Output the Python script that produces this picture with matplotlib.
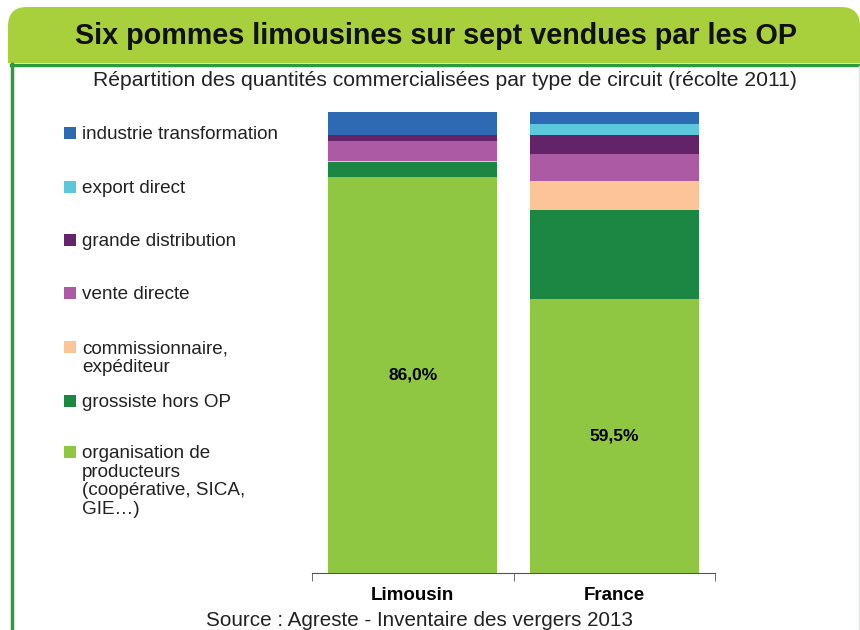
import matplotlib.pyplot as plt
from matplotlib.patches import FancyBboxPatch, Rectangle
from matplotlib.lines import Line2D

plt.rcParams['font.family'] = ['Liberation Sans', 'DejaVu Sans']

# Data (stack order bottom -> top)
regions = ['Limousin', 'France']
circuits = ['organisation de\nproducteurs\n(coopérative, SICA,\nGIE…)',
            'grossiste hors OP',
            'commissionnaire,\nexpéditeur',
            'vente directe',
            'grande distribution',
            'export direct',
            'industrie transformation']
limousin = [86.0, 3.2, 0.2, 4.3, 1.3, 0.0, 5.0]
france = [59.5, 19.2, 6.3, 5.9, 4.1, 2.4, 2.6]
colors = ['#8fc742', '#1b8742', '#fcc597', '#ab5aa3', '#632368', '#5bc8dc', '#2e6ab4']
op_labels = ['86,0%', '59,5%']

W, H = 860, 630
fig = plt.figure(figsize=(W / 100, H / 100), dpi=100)

def fx(px):
    return px / W

def fy(py):
    return 1 - py / H

# Title banner (rounded top, square bottom)
banner = FancyBboxPatch((fx(8), fy(100)), fx(860) - fx(8), fy(7) - fy(100),
                        boxstyle='round,pad=0,rounding_size=0.022',
                        transform=fig.transFigure, facecolor='#a8cf3c',
                        edgecolor='none', mutation_aspect=W / H, zorder=-2)
fig.add_artist(banner)
fig.add_artist(Rectangle((0, fy(105)), 1, fy(63) - fy(105), transform=fig.transFigure,
                         facecolor='white', edgecolor='none', zorder=-1))
fig.add_artist(Line2D([fx(11), 1], [fy(64.5), fy(64.5)], transform=fig.transFigure,
                      color='#2e9a40', lw=2.5))
fig.add_artist(Line2D([fx(12), fx(12)], [fy(64), 0], transform=fig.transFigure,
                      color='#2e9a40', lw=2.5))
fig.add_artist(Line2D([fx(859), fx(859)], [fy(66), 0], transform=fig.transFigure,
                      color='#dde6e6', lw=1))

fig.text(fx(436), fy(36), 'Six pommes limousines sur sept vendues par les OP',
         ha='center', va='center', fontsize=20.7, fontweight='bold', color='#111111')
fig.text(fx(445), fy(81), 'Répartition des quantités commercialisées par type de circuit (récolte 2011)',
         ha='center', va='center', fontsize=15.2, color='#222222')

# Bars
ax = fig.add_axes([fx(312), fy(573), fx(715) - fx(312), fy(112) - fy(573)])
x = [0, 1]
bottoms = [0, 0]
for i, name in enumerate(circuits):
    vals = [limousin[i], france[i]]
    ax.bar(x, vals, bottom=bottoms, width=0.84, color=colors[i], edgecolor='none')
    bottoms = [b + v for b, v in zip(bottoms, vals)]

for xi, (v, lab) in enumerate(zip([limousin[0], france[0]], op_labels)):
    ax.text(xi, v / 2, lab, ha='center', va='center', fontsize=12.5, fontweight='bold')

ax.set_xlim(-0.5, 1.5)
ax.set_ylim(0, 100)
for s in ['top', 'left', 'right']:
    ax.spines[s].set_visible(False)
ax.spines['bottom'].set_color('#555555')
ax.set_yticks([])
ax.set_xticks(x)
ax.set_xticklabels(regions, fontsize=13.5, fontweight='bold')
ax.tick_params(axis='x', which='major', length=0, pad=10)
ax.set_xticks([-0.5, 0.5, 1.5], minor=True)
ax.tick_params(axis='x', which='minor', length=6, color='#555555', direction='out')

# Legend (top entry first)
legend_y = [133, 187, 240, 293, 347, 401, 452]
for yy, name, c in zip(legend_y, circuits[::-1], colors[::-1]):
    fig.add_artist(Rectangle((fx(64), fy(yy + 6)), fx(12), fy(0) - fy(12),
                             transform=fig.transFigure, facecolor=c, edgecolor='none'))
    lines = name.split('\n')
    for k, line in enumerate(lines):
        fig.text(fx(82), fy(yy + 6 + k * 18.6), line, ha='left', va='baseline',
                 fontsize=13.6, color='#222222')

fig.text(fx(419), fy(620), 'Source : Agreste - Inventaire des vergers 2013',
         ha='center', va='center', fontsize=14.9, color='#222222')

fig.savefig('out.png', dpi=100)
